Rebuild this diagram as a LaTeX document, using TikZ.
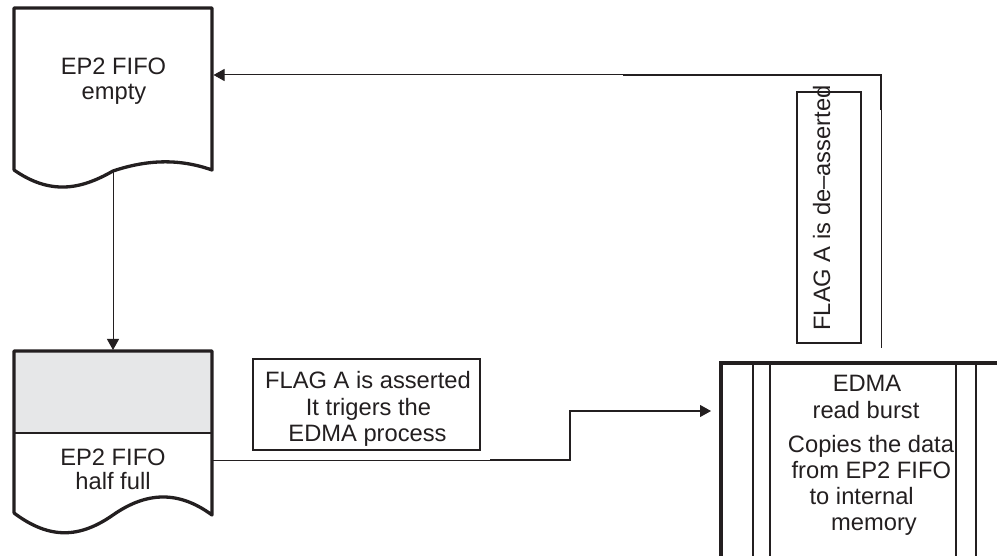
\documentclass[tikz,border=0pt]{standalone}
\usepackage{fontspec}
\setmainfont{Liberation Sans}
\usetikzlibrary{arrows.meta}
\definecolor{ink}{RGB}{35,31,32}
\definecolor{greyfill}{RGB}{230,231,232}
\begin{document}
\begin{tikzpicture}[x=1bp,y=-1bp,
  txt/.style={font=\fontsize{23.8}{27}\selectfont, text=ink, inner sep=0pt, anchor=base},
  outline/.style={draw=ink, line width=3.3bp, line join=round, line cap=round},
  thinline/.style={draw=ink, line width=1bp},
  heavyline/.style={draw=ink, line width=2.6bp},
  labelbox/.style={draw=ink, line width=2bp, inner sep=0pt},
  arr/.style={-{Triangle[length=11bp,width=12bp]}},
]
\useasboundingbox (0,0) rectangle (997,556);
\clip (0,0) rectangle (997,556);

% --- EP2 FIFO empty (document shape)
\draw[outline] (14,170) -- (14,8) -- (212,8) -- (212,170)
  .. controls (178,158) and (146,160) .. (113,171)
  .. controls (80,190) and (50,195) .. (14,170);
\node[txt] (emptyA) at (113.5,75) {EP2 FIFO};
\node[txt] (emptyB) at (114,100) {empty};
\coordinate (emptyBot) at (113,171);
\coordinate (emptyR) at (213.5,75);

% --- EP2 FIFO half full (document shape)
\fill[fill=greyfill] (14,351) rectangle (212,433);
\draw[draw=ink, line width=1.3bp] (14,433) -- (212,433);
\draw[outline] (14,513) -- (14,351) -- (212,351) -- (212,515)
  .. controls (178,490) and (146,492) .. (113,515)
  .. controls (80,538) and (50,540) .. (14,513);
\node[txt] (halfA) at (113,465) {EP2 FIFO};
\node[txt] (halfB) at (113,489) {half full};
\coordinate (halfTop) at (113,350);
\coordinate (halfR) at (212,460);

% --- FLAG A is asserted
\node[labelbox, minimum width=226.7bp, minimum height=91bp] (flagA) at (366.7,404.5) {};
\node[txt] (flagA1) at (368,388) {FLAG A is asserted};
\node[txt] (flagA2) at (368.5,415) {It trigers the};
\node[txt] (flagA3) at (367.5,441) {EDMA process};

% --- FLAG A is de-asserted (vertical)
\node[labelbox, minimum width=64bp, minimum height=251bp] (flagD) at (829,217.5) {};
\node[txt, rotate=90] (flagDt) at (830,208) {FLAG A is de\textendash asserted};

% --- EDMA read burst (predefined process)
\node[draw=ink, line width=4bp, inner sep=0pt, minimum width=300bp, minimum height=220bp, anchor=north west] (edma) at (719,361) {};
\foreach \xx in {753,770,956,976}{
  \draw[draw=ink, line width=2bp] (\xx,361) -- (\xx,580);
}
\node[txt] (edma1) at (867,391.7) {EDMA};
\node[txt] (edma2) at (866,418.5) {read burst};
\node[txt] (edma3) at (871,452.3) {Copies the data};
\node[txt] (edma4) at (871.3,478.5) {from EP2 FIFO};
\node[txt] (edma5) at (861.7,504) {to internal};
\node[txt] (edma6) at (874,530) {memory};
\coordinate (edmaL) at (711,411);
\coordinate (edmaTop) at (881,348);

% --- connectors
\draw[thinline, arr] (emptyBot) -- (halfTop);
\draw[thinline, arr] (halfR) -- (570,460) |- (edmaL);
\draw[heavyline] (490,460) -- (570,460) -- (570,411) -- (700,411);
\draw[thinline, arr] (edmaTop) |- (emptyR);
\draw[heavyline] (623,75) -- (881,75) -- (881,110);
\end{tikzpicture}
\end{document}
